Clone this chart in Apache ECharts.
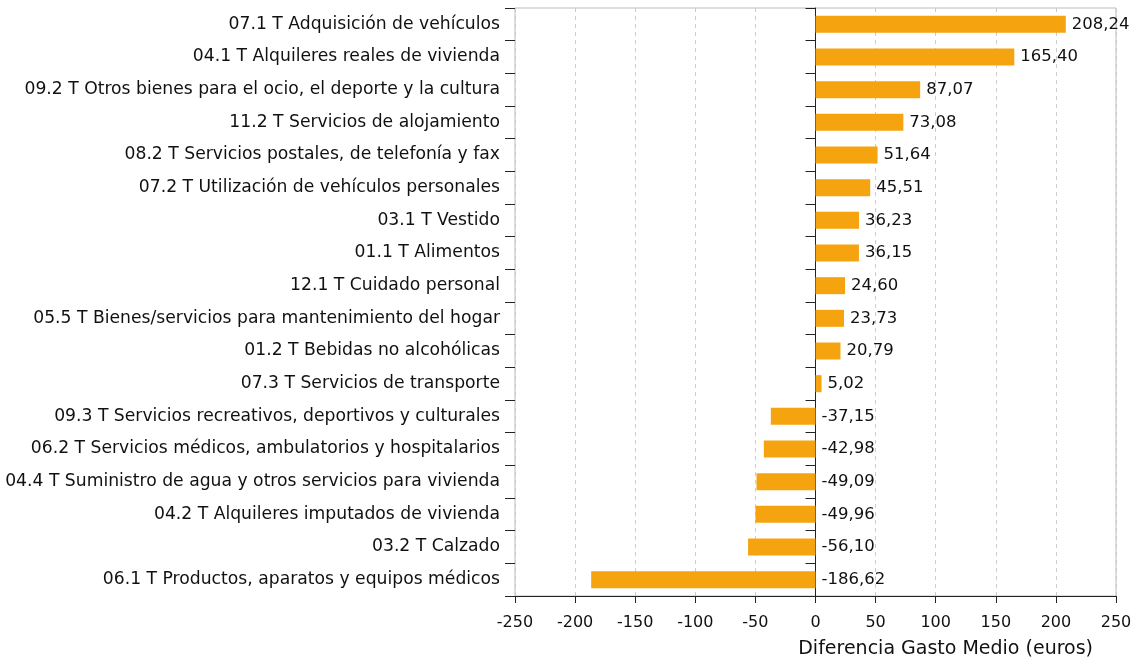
<!DOCTYPE html>
<html>
<head>
<meta charset="utf-8">
<script src="https://cdn.jsdelivr.net/npm/echarts@6/dist/echarts.min.js"></script>
<style>
  html, body { margin: 0; padding: 0; background: #fff; }
  #chart { width: 1142px; height: 661px; }
</style>
</head>
<body>
<div id="chart"></div>
<script>
// categorias, de arriba a abajo
const categories = [
    '07.1 T Adquisición de vehículos',
    '04.1 T Alquileres reales de vivienda',
    '09.2 T Otros bienes para el ocio, el deporte y la cultura',
    '11.2 T Servicios de alojamiento',
    '08.2 T Servicios postales, de telefonía y fax',
    '07.2 T Utilización de vehículos personales',
    '03.1 T Vestido',
    '01.1 T Alimentos',
    '12.1 T Cuidado personal',
    '05.5 T Bienes/servicios para mantenimiento del hogar',
    '01.2 T Bebidas no alcohólicas',
    '07.3 T Servicios de transporte',
    '09.3 T Servicios recreativos, deportivos y culturales',
    '06.2 T Servicios médicos, ambulatorios y hospitalarios',
    '04.4 T Suministro de agua y otros servicios para vivienda',
    '04.2 T Alquileres imputados de vivienda',
    '03.2 T Calzado',
    '06.1 T Productos, aparatos y equipos médicos',
];
const diferencia = [
    208.24, 165.40, 87.07, 73.08, 51.64, 45.51, 36.23, 36.15, 24.60,
    23.73, 20.79, 5.02, -37.15, -42.98, -49.09, -49.96, -56.10, -186.62,
];
const xTicks = { min: -250, max: 250, interval: 50 };
const axisName = 'Diferencia Gasto Medio (euros)';

const FONT = 'DejaVu Sans';
const chart = echarts.init(document.getElementById('chart'));

chart.setOption({
    animation: false,
    textStyle: { fontFamily: FONT },
    title: {
        text: axisName,
        right: 44,
        top: 635,
        textStyle: { fontFamily: FONT, fontSize: 19, fontWeight: 'normal', color: '#111' },
    },
    grid: {
        left: 515, right: 26, top: 8, bottom: 65,
        outerBoundsMode: 'none',
        show: true, borderColor: '#bbb', borderWidth: 1,
    },
    xAxis: {
        type: 'value',
        min: xTicks.min,
        max: xTicks.max,
        interval: xTicks.interval,
        axisLine: { show: true, onZero: false, lineStyle: { color: '#222' } },
        axisTick: { show: true, length: 7, lineStyle: { color: '#222' } },
        axisLabel: { fontSize: 16, color: '#111', margin: 19 },
        splitLine: {
            show: true,
            lineStyle: { color: '#ccc', type: [4, 4] },
        },
    },
    yAxis: [
        {
            // etiquetas a la izquierda
            type: 'category',
            data: categories,
            inverse: true,
            position: 'left',
            axisLine: { show: false, onZero: false },
            axisTick: { show: true, length: 10, lineStyle: { color: '#222' } },
            axisLabel: { fontSize: 17.2, color: '#111', margin: 15 },
        },
        {
            // eje en el cero
            type: 'category',
            data: categories,
            inverse: true,
            axisLine: { show: true, onZero: true, lineStyle: { color: '#222' } },
            axisTick: { show: true, length: 10, inside: true, lineStyle: { color: '#222' } },
            axisLabel: { show: false },
        },
    ],
    series: [{
        type: 'bar',
        data: diferencia,
        yAxisIndex: 0,
        barWidth: 17,
        itemStyle: { color: '#f5a40f' },
        label: {
            show: true,
            position: 'right',
            distance: 6,
            fontSize: 16.5,
            color: '#111',
            formatter: p => p.value.toFixed(2).replace('.', ','),
        },
    }],
});
</script>
</body>
</html>
